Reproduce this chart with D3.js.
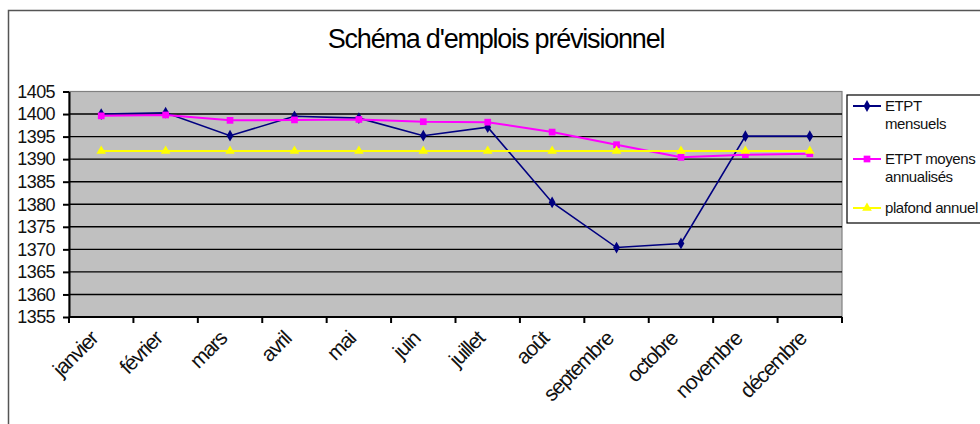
<!DOCTYPE html>
<html><head><meta charset="utf-8">
<script src="https://cdn.jsdelivr.net/npm/d3@7"></script>
<style>
html,body{margin:0;padding:0;background:#fff;overflow:hidden}
svg{display:block;font-family:"Liberation Sans",Arial,sans-serif}
</style></head><body>
<svg id="c" width="980" height="424"></svg>
<script>
const months = ["janvier","février","mars","avril","mai","juin","juillet","août","septembre","octobre","novembre","décembre"];
const mensuels = [1400, 1400.3, 1395.2, 1399.5, 1399.1, 1395.2, 1397.1, 1380.4, 1370.4, 1371.3, 1395.1, 1395.1];
const moyens = [1399.6, 1399.8, 1398.6, 1398.7, 1398.8, 1398.3, 1398.2, 1396.0, 1393.2, 1390.4, 1391.0, 1391.2];
const plafond = [1391.8, 1391.8, 1391.8, 1391.8, 1391.8, 1391.8, 1391.8, 1391.8, 1391.8, 1391.8, 1391.8, 1391.8];
const yTicks = [1355,1360,1365,1370,1375,1380,1385,1390,1395,1400,1405];
const seriesNames = [["ETPT","mensuels"],["ETPT moyens","annualisés"],["plafond annuel"]];
const title = "Schéma d'emplois prévisionnel";

const svg = d3.select("#c");
// outer frame
svg.append("rect").attr("x",8.5).attr("y",10.5).attr("width",990).attr("height",430)
  .attr("fill","#fff").attr("stroke","#555").attr("stroke-width",1.5);

const L=69, R=842, T=91.5, B=317;
const x = d3.scaleBand().domain(months).range([L,R]).padding(0);
const y = d3.scaleLinear().domain([1355,1405]).range([B,T]);

svg.append("text").attr("x",496).attr("y",48).attr("text-anchor","middle")
  .attr("font-size",27).attr("letter-spacing",-1.2).attr("fill","#000").text(title);

// plot area
svg.append("rect").attr("x",L).attr("y",T).attr("width",R-L).attr("height",B-T)
  .attr("fill","#c0c0c0").attr("stroke","#808080").attr("stroke-width",1.2);

// gridlines
svg.append("g").selectAll("line").data(yTicks.filter(v=>v>1355 && v<1405)).join("line")
  .attr("x1",L).attr("x2",R).attr("y1",d=>y(d)).attr("y2",d=>y(d))
  .attr("stroke","#000").attr("stroke-width",1.4);

// y axis
const ya = svg.append("g").attr("transform",`translate(${L},0)`)
  .call(d3.axisLeft(y).tickValues(yTicks).tickSize(6).tickSizeOuter(0).tickFormat(d3.format("d")));
ya.select(".domain").attr("stroke","#000").attr("stroke-width",2);
ya.selectAll(".tick line").attr("stroke","#000").attr("stroke-width",2);
ya.selectAll(".tick text").attr("x",-14).attr("font-size",18).attr("letter-spacing",-0.6)
  .attr("font-family","Liberation Sans, Arial, sans-serif").attr("fill","#111");

// x axis
const xa = svg.append("g");
xa.append("line").attr("x1",L).attr("x2",R).attr("y1",B).attr("y2",B).attr("stroke","#000").attr("stroke-width",2);
xa.selectAll("line.t").data(months.map(m=>x(m)).concat([R])).join("line").attr("class","t")
  .attr("x1",d=>d).attr("x2",d=>d).attr("y1",B).attr("y2",B+6).attr("stroke","#000").attr("stroke-width",2);
xa.selectAll("text").data(months).join("text")
  .attr("transform",d=>`translate(${x(d)+x.bandwidth()/2-2},${B+23}) rotate(-45)`)
  .attr("text-anchor","end").attr("font-size",21).attr("letter-spacing",-1.2).attr("fill","#111").text(d=>d);

const cx = m => x(m)+x.bandwidth()/2;
const line = d3.line().x((d,i)=>cx(months[i])).y(d=>y(d));
const colors = ["#000080","#ff00ff","#ffff00"];
const data = [mensuels, moyens, plafond];
const sym = [d3.symbolDiamond, d3.symbolSquare, d3.symbolTriangle];
const symSize = [40, 45, 40];
data.forEach((s,k)=>{
  svg.append("path").datum(s).attr("d",line).attr("fill","none")
    .attr("stroke",colors[k]).attr("stroke-width",k===0?1.6:2);
  svg.append("g").selectAll("path").data(s).join("path")
    .attr("transform",(d,i)=>`translate(${cx(months[i])},${y(d)})`)
    .attr("d",d3.symbol().type(sym[k]).size(symSize[k])).attr("fill",colors[k]);
});

// legend
const lg = svg.append("g");
lg.append("rect").attr("x",847).attr("y",95).attr("width",150).attr("height",128)
  .attr("fill","#fff").attr("stroke","#000").attr("stroke-width",1.2);
const lgY = [106,159,208];
seriesNames.forEach((nm,k)=>{
  lg.append("line").attr("x1",853).attr("x2",881).attr("y1",lgY[k]).attr("y2",lgY[k])
    .attr("stroke",colors[k]).attr("stroke-width",2);
  lg.append("path").attr("transform",`translate(867,${lgY[k]})`)
    .attr("d",d3.symbol().type(sym[k]).size(symSize[k])).attr("fill",colors[k]);
  nm.forEach((t,j)=>{
    lg.append("text").attr("x",885).attr("y",lgY[k]+5+j*18).attr("font-size",15)
      .attr("letter-spacing",-0.4).attr("fill","#111").text(t);
  });
});
</script>
</body></html>
